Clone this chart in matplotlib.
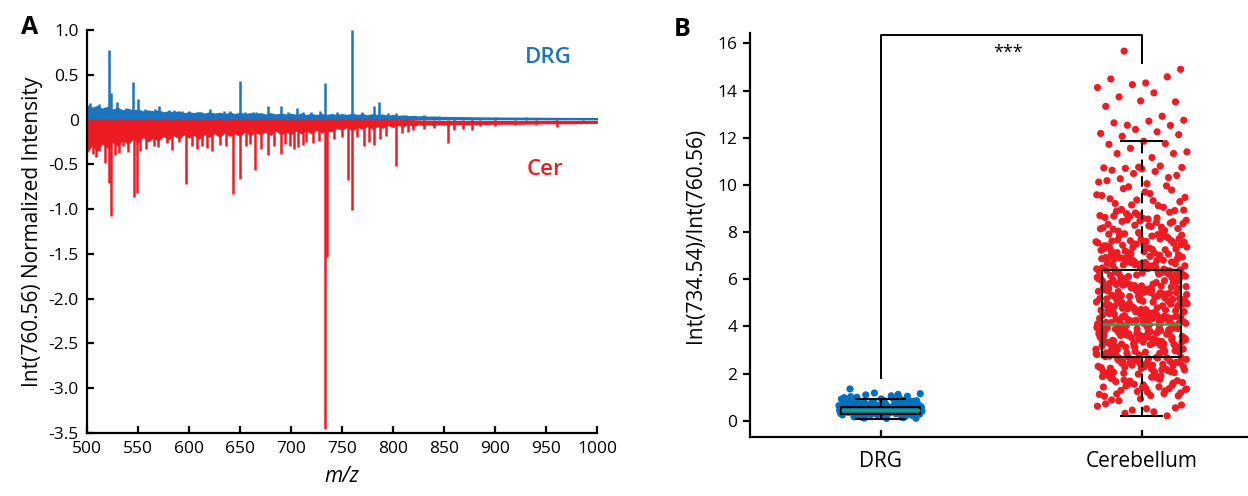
import numpy as np
import matplotlib
matplotlib.use('Agg')
import matplotlib.pyplot as plt
from matplotlib.ticker import FuncFormatter

plt.rcParams['font.family'] = ['Open Sans', 'DejaVu Sans']
plt.rcParams['axes.unicode_minus'] = False

# Panel A: mirror spectrum (DRG up, Cer down), Int(760.56)-normalised
env_mz = list(range(500, 851, 5)) + [875, 900, 925, 950, 975, 1000]
drg_env_top = [0.16, 0.13, 0.15, 0.12, 0.14, 0.11, 0.13, 0.10, 0.12, 0.10,
               0.11, 0.09, 0.10, 0.09, 0.10, 0.08, 0.09, 0.08, 0.09, 0.07,
               0.08, 0.07, 0.08, 0.065, 0.08, 0.065, 0.075, 0.06, 0.075, 0.06,
               0.075, 0.06, 0.07, 0.06, 0.07, 0.055, 0.07, 0.055, 0.065, 0.055,
               0.065, 0.05, 0.065, 0.05, 0.06, 0.05, 0.06, 0.05, 0.06, 0.05,
               0.06, 0.05, 0.065, 0.05, 0.06, 0.045, 0.06, 0.05, 0.055, 0.04,
               0.05, 0.04, 0.045, 0.035, 0.04, 0.033, 0.038, 0.03, 0.033, 0.028,
               0.028, 0.024, 0.021, 0.02, 0.018, 0.017, 0.016]
drg_env_bot = [0.0] * 61 + [0.002, 0.003, 0.004, 0.004, 0.005, 0.005, 0.005, 0.005, 0.005, 0.005,
                            0.005, 0.005, 0.005, 0.005, 0.005, 0.005]
cer_env_bot = [-0.36, -0.28, -0.34, -0.26, -0.31, -0.24, -0.29, -0.22, -0.27, -0.21,
               -0.25, -0.19, -0.24, -0.20, -0.23, -0.18, -0.22, -0.17, -0.21, -0.16,
               -0.20, -0.17, -0.21, -0.16, -0.19, -0.15, -0.19, -0.14, -0.18, -0.15,
               -0.18, -0.13, -0.17, -0.14, -0.16, -0.13, -0.17, -0.12, -0.16, -0.13,
               -0.16, -0.12, -0.15, -0.12, -0.15, -0.11, -0.14, -0.12, -0.13, -0.09,
               -0.11, -0.08, -0.12, -0.08, -0.10, -0.07, -0.10, -0.07, -0.09, -0.06,
               -0.08, -0.06, -0.07, -0.05, -0.07, -0.05, -0.06, -0.05, -0.06, -0.05,
               -0.055, -0.05, -0.045, -0.045, -0.04, -0.04, -0.035]
cer_env_top = [0.0] * 61 + [-0.004, -0.006, -0.008, -0.01, -0.012, -0.014, -0.015, -0.016, -0.017, -0.018,
                            -0.018, -0.018, -0.018, -0.017, -0.017, -0.016]

drg_peak_mz = [503, 512, 521.4, 524, 529.6, 538, 545, 549.7, 557, 567, 571, 580, 585,
               593, 600, 608, 612, 621, 634, 640, 649.7, 655, 663, 666, 677, 690, 697,
               706, 712, 720, 728, 733.8, 745, 759.5, 770, 781, 786.5, 795, 803, 813,
               830, 845, 860, 877, 900, 930, 960, 986]
drg_peak_int = [0.19, 0.17, 0.78, 0.30, 0.20, 0.13, 0.42, 0.23, 0.12, 0.12, 0.155, 0.11,
                0.11, 0.10, 0.10, 0.09, 0.09, 0.12, 0.10, 0.10, 0.435, 0.08, 0.08, 0.08,
                0.156, 0.15, 0.09, 0.13, 0.08, 0.08, 0.10, 0.41, 0.08, 1.0, 0.08, 0.155,
                0.2, 0.07, 0.07, 0.05, 0.05, 0.04, 0.03, 0.02, 0.03, 0.025, 0.02, 0.015]
cer_peak_mz = [503, 506, 509, 512, 517.5, 522, 523.7, 527, 531, 535, 540, 546, 549, 552,
               558, 565.5, 570, 578.5, 583, 590, 597.5, 603, 608, 613, 618, 622.6, 630,
               636, 643, 649.7, 656, 660, 665, 671, 677, 683, 690, 694, 699, 703, 707,
               712, 715, 722, 727, 733.8, 735.2, 742, 750, 756, 760, 765, 772, 776,
               781.6, 787.5, 793, 803, 808.7, 815, 820, 830, 840, 854, 860, 869, 877,
               885, 900, 920, 940, 960.5]
cer_peak_int = [-0.30, -0.38, -0.42, -0.35, -0.48, -0.71, -1.08, -0.40, -0.37, -0.30,
                -0.36, -0.87, -0.82, -0.35, -0.33, -0.30, -0.31, -0.26, -0.34, -0.25,
                -0.72, -0.30, -0.33, -0.29, -0.32, -0.35, -0.28, -0.30, -0.83, -0.66,
                -0.30, -0.27, -0.56, -0.33, -0.40, -0.30, -0.39, -0.27, -0.30, -0.33,
                -0.31, -0.28, -0.25, -0.26, -0.24, -3.46, -1.53, -0.22, -0.20, -0.67,
                -1.01, -0.20, -0.30, -0.25, -0.28, -0.22, -0.18, -0.52, -0.15, -0.14,
                -0.12, -0.10, -0.09, -0.26, -0.12, -0.10, -0.12, -0.07, -0.07, -0.06,
                -0.06, -0.08]

# Panel B: Int(734.54)/Int(760.56) per pixel
groups = ['DRG', 'Cerebellum']
drg_ratio = [0.12, 0.35, 0.48, 0.62, 0.27, 0.81, 0.44, 0.53, 0.19, 0.71, 0.39, 0.57, 0.95,
             0.31, 0.66, 0.42, 0.24, 0.88, 0.51, 0.36, 0.75, 0.15, 0.6, 0.46, 1.02, 0.29,
             0.69, 0.41, 0.55, 0.22, 0.84, 0.38, 0.63, 0.49, 1.1, 0.33, 0.73, 0.45, 0.18,
             0.58, 0.92, 0.4, 0.67, 0.26, 0.52, 0.79, 0.34, 0.47, 1.15, 0.56, 0.21, 0.7,
             0.43, 0.98, 0.3, 0.61, 0.5, 0.86, 0.37, 0.14, 0.65, 0.44, 1.06, 0.28, 0.77,
             0.54, 0.4, 0.9, 0.32, 0.59, 0.1, 0.72, 0.47, 1.18, 0.25, 0.64, 0.43, 0.83,
             0.36, 1.35,
             0.16, 0.41, 0.58, 0.33, 0.74, 0.47, 0.26, 0.63, 0.52, 0.38, 0.85, 0.2, 0.69,
             0.44, 0.55, 0.31, 0.97, 0.49, 0.23, 0.66, 0.36, 0.8, 0.5, 0.28, 0.61, 0.42,
             1.04, 0.34, 0.71, 0.46, 0.13, 0.57, 0.39, 0.89, 0.53, 0.27, 0.64, 0.45, 0.76,
             0.3, 0.6, 0.48, 1.12, 0.37, 0.68, 0.43, 0.17, 0.56, 0.82, 0.35, 0.62, 0.5,
             0.24, 0.93, 0.41, 0.7, 0.33, 0.58, 0.46, 1.0, 0.29, 0.65, 0.52, 0.39, 0.78,
             0.11, 0.55, 0.44, 0.87, 0.31]
cer_ratio = [
    15.67, 14.9, 14.32, 14.49, 14.58, 14.25, 14.13, 13.9, 13.73, 13.52, 13.56, 13.33,
    12.91, 12.53, 12.74, 12.70, 12.63, 12.52, 12.35, 12.18, 12.25, 12.06, 12.13, 11.85,
    11.72, 11.75, 11.55, 11.4, 11.16, 11.33, 11.33, 10.75, 10.72, 10.8, 10.7, 10.74,
    10.05, 10.62, 10.31, 10.48, 10.12, 10.57, 10.26, 10.4, 10.68, 10.18,
    9.05, 9.92, 9.47, 9.63, 9.21, 9.78, 9.36, 9.55, 9.12, 9.84, 9.29, 9.7, 9.41, 9.96,
    9.15, 9.58, 9.33,
    8.04, 8.91, 8.47, 8.62, 8.21, 8.78, 8.36, 8.55, 8.12, 8.84, 8.29, 8.7, 8.41, 8.96,
    8.15, 8.58, 8.33, 8.07, 8.66, 8.5, 8.24, 8.88, 8.44, 8.73, 8.18,
    7.02, 7.93, 7.46, 7.61, 7.2, 7.77, 7.35, 7.54, 7.11, 7.85, 7.28, 7.69, 7.42, 7.97,
    7.14, 7.57, 7.32, 7.06, 7.65, 7.49, 7.23, 7.89, 7.44, 7.72, 7.17, 7.38, 7.81, 7.09,
    7.59, 7.26, 7.67, 7.52, 7.95, 7.3, 7.75,
    6.03, 6.94, 6.45, 6.6, 6.21, 6.76, 6.34, 6.53, 6.1, 6.86, 6.27, 6.68, 6.43, 6.98,
    6.13, 6.56, 6.31, 6.07, 6.64, 6.48, 6.22, 6.88, 6.4, 6.71, 6.16, 6.37, 6.82, 6.08,
    6.58, 6.25, 6.66, 6.51, 6.92, 6.29, 6.74, 6.19, 6.47, 6.84, 6.35, 6.62, 6.05, 6.79,
    5.02, 5.93, 5.46, 5.61, 5.2, 5.77, 5.35, 5.54, 5.11, 5.85, 5.28, 5.69, 5.42, 5.97,
    5.14, 5.57, 5.32, 5.06, 5.65, 5.49, 5.23, 5.89, 5.44, 5.72, 5.17, 5.38, 5.81, 5.09,
    5.59, 5.26, 5.67, 5.52, 5.95, 5.3, 5.75, 5.19, 5.47, 5.83, 5.36, 5.63, 5.04, 5.79,
    5.4, 5.87, 5.13, 5.55, 5.71,
    4.03, 4.94, 4.45, 4.6, 4.21, 4.76, 4.34, 4.53, 4.1, 4.86, 4.27, 4.68, 4.43, 4.98,
    4.13, 4.56, 4.31, 4.07, 4.64, 4.48, 4.22, 4.88, 4.4, 4.71, 4.16, 4.37, 4.82, 4.08,
    4.58, 4.25, 4.66, 4.51, 4.92, 4.29, 4.74, 4.19, 4.47, 4.84, 4.35, 4.62, 4.05, 4.79,
    4.41, 4.9, 4.12, 4.55, 4.7, 4.24, 4.97, 4.33,
    3.02, 3.93, 3.46, 3.61, 3.2, 3.77, 3.35, 3.54, 3.11, 3.85, 3.28, 3.69, 3.42, 3.97,
    3.14, 3.57, 3.32, 3.06, 3.65, 3.49, 3.23, 3.89, 3.44, 3.72, 3.17, 3.38, 3.81, 3.09,
    3.59, 3.26, 3.67, 3.52, 3.95, 3.3, 3.75, 3.19, 3.47, 3.83, 3.36, 3.63, 3.04, 3.79,
    3.4, 3.87, 3.13, 3.55, 3.71, 3.25, 3.91, 3.34,
    2.03, 2.94, 2.45, 2.6, 2.21, 2.76, 2.34, 2.53, 2.1, 2.86, 2.27, 2.68, 2.43, 2.98,
    2.13, 2.56, 2.31, 2.07, 2.64, 2.48, 2.22, 2.88, 2.4, 2.71, 2.16, 2.37, 2.82, 2.08,
    2.58, 2.25, 2.66, 2.51, 2.92, 2.29, 2.74, 2.19, 2.47, 2.84, 2.35, 2.62, 2.05, 2.79,
    1.04, 1.91, 1.47, 1.62, 1.21, 1.78, 1.36, 1.55, 1.12, 1.84, 1.29, 1.7, 1.41, 1.96,
    1.15, 1.58, 1.33, 1.07, 1.66, 1.5, 1.24, 1.88, 1.44, 1.73, 1.18, 1.39, 1.81,
    0.21, 0.45, 0.62, 0.38, 0.85, 0.55, 0.93, 0.72,
    8.09, 8.52, 8.93, 8.27, 8.68, 8.38, 8.81, 8.14, 8.6, 8.45,
    7.04, 7.48, 7.91, 7.25, 7.63, 7.37, 7.83, 7.13, 7.56, 7.98, 7.41, 7.71, 7.19, 7.87,
    7.33, 7.62, 7.07, 7.5,
    6.02, 6.49, 6.91, 6.23, 6.67, 6.38, 6.81, 6.12, 6.57, 6.97, 6.42, 6.73, 6.18, 6.87,
    6.32, 6.61, 6.06, 6.52, 6.95, 6.28, 6.7, 6.44,
    5.03, 5.48, 5.92, 5.24, 5.66, 5.37, 5.82, 5.12, 5.58, 5.98, 5.41, 5.73, 5.18, 5.86,
    5.31, 5.62, 5.07, 5.51, 5.94, 5.27, 5.69, 5.43, 5.78, 5.15, 5.53, 5.9,
    4.02, 4.46, 4.93, 4.23, 4.67, 4.36, 4.81, 4.11, 4.57, 4.99, 4.42, 4.72, 4.17, 4.87,
    4.3, 4.63, 4.06, 4.52, 4.95, 4.26, 4.69, 4.44, 4.77, 4.14, 4.54, 4.91, 4.38, 4.85,
    3.03, 3.48, 3.92, 3.24, 3.66, 3.37, 3.82, 3.12, 3.58, 3.98, 3.41, 3.73, 3.18, 3.86,
    3.31, 3.62, 3.07, 3.51, 3.94, 3.27, 3.69, 3.43, 3.78, 3.15, 3.53, 3.9, 3.39, 3.84,
    2.02, 2.46, 2.91, 2.23, 2.67, 2.36, 2.81, 2.11, 2.57, 2.97, 2.42, 2.72, 2.17, 2.87,
    2.3, 2.63, 2.06, 2.52, 2.95, 2.26, 2.69, 2.44,
    1.06, 1.52, 1.93, 1.27, 1.68, 1.35, 1.85, 1.14, 1.6, 1.98, 1.43, 1.76,
    0.32, 0.67, 0.51, 0.88]

# box statistics: [whislo, q1, med, q3, whishi]
drg_box = [0.07, 0.30, 0.45, 0.59, 0.91]
cer_box = [0.21, 2.69, 4.10, 6.41, 11.85]

# significance bracket heights
bracket_top = 16.35
bracket_left_low = 1.8
bracket_right_low = 15.15
sig_label = '***'

BLUE = '#1C75BC'
RED = '#ED1C24'
GREEN = '#22A84A'

fig = plt.figure(figsize=(12.48, 4.96), dpi=100)

# ---------- Panel A ----------
axA = fig.add_axes([0.0697, 0.127, 0.4087, 0.8125])
axA.fill_between(env_mz, drg_env_bot, drg_env_top, color=BLUE, lw=1.0, ec=BLUE, zorder=2)
axA.fill_between(env_mz, cer_env_top, cer_env_bot, color=RED, lw=1.0, ec=RED, zorder=2)
axA.vlines(drg_peak_mz, 0, drg_peak_int, color=BLUE, lw=1.8, zorder=3)
axA.vlines(cer_peak_mz, 0, cer_peak_int, color=RED, lw=1.8, zorder=3)

axA.set_xlim(500, 1000)
axA.set_ylim(-3.5, 1.0)
axA.set_xticks(np.arange(500, 1001, 50))
axA.set_yticks(np.arange(-3.5, 1.01, 0.5))
axA.yaxis.set_major_formatter(FuncFormatter(lambda v, p: '0' if abs(v) < 1e-9 else f'{v:.1f}'))
for s in ['top', 'right']:
    axA.spines[s].set_visible(False)
for s in ['left', 'bottom']:
    axA.spines[s].set_linewidth(1.6)
axA.tick_params(direction='in', length=5, width=1.6, labelsize=12.5, pad=6)
axA.set_xlabel('m/z', fontsize=15, style='italic', labelpad=6)
axA.set_ylabel('Int(760.56) Normalized Intensity', fontsize=15, labelpad=4)
axA.text(952, 0.69, 'DRG', color=BLUE, fontsize=16, fontweight='semibold', ha='center', va='center')
axA.text(949, -0.56, 'Cer', color=RED, fontsize=16, fontweight='semibold', ha='center', va='center')
fig.text(0.024, 0.944, 'A', fontsize=18, fontweight='bold', ha='center', va='center')

# ---------- Panel B ----------
axB = fig.add_axes([0.601, 0.1183, 0.399, 0.8157])
spreads = [0.16, 0.175]
for k, (vals, col) in enumerate([(drg_ratio, '#0072BD'), (cer_ratio, RED)]):
    n = len(vals)
    # deterministic horizontal jitter (low-discrepancy sequence)
    jit = ((np.arange(n) * 0.6180339887 + 0.31) % 1.0 - 0.5) * 2 * spreads[k]
    axB.scatter(k + 1 + jit, vals, s=27, color=col, edgecolors='none', zorder=1)

stats = []
for name, b in zip(groups, [drg_box, cer_box]):
    stats.append(dict(label=name, whislo=b[0], q1=b[1], med=b[2], q3=b[3], whishi=b[4], fliers=[]))
axB.bxp(stats, positions=[1, 2], widths=0.3, capwidths=[0.19, 0.157], showfliers=False,
        boxprops=dict(color='black', lw=1.5),
        whiskerprops=dict(color='black', lw=1.5, linestyle=(0, (5, 3))),
        capprops=dict(color='black', lw=1.5),
        medianprops=dict(color=GREEN, lw=1.8), manage_ticks=False, zorder=3)

axB.plot([1, 1, 2, 2], [bracket_left_low, bracket_top, bracket_top, bracket_right_low],
         color='black', lw=1.4, zorder=4)
axB.text(1.49, 15.6, sig_label, fontsize=13, ha='center', va='center')

axB.set_xlim(0.5, 2.408)
axB.set_ylim(-0.7, 16.45)
axB.set_xticks([1, 2])
axB.set_xticklabels(groups)
axB.set_yticks(np.arange(0, 17, 2))
for s in ['top', 'right']:
    axB.spines[s].set_visible(False)
for s in ['left', 'bottom']:
    axB.spines[s].set_linewidth(1.6)
axB.tick_params(axis='y', direction='out', length=5, width=1.6, labelsize=12.5, pad=4)
axB.tick_params(axis='x', direction='in', length=5, width=1.6, labelsize=15, pad=10)
axB.set_ylabel('Int(734.54)/Int(760.56)', fontsize=15, labelpad=8)
fig.text(0.547, 0.94, 'B', fontsize=18, fontweight='bold', ha='center', va='center')

fig.savefig('out.png', dpi=100)
